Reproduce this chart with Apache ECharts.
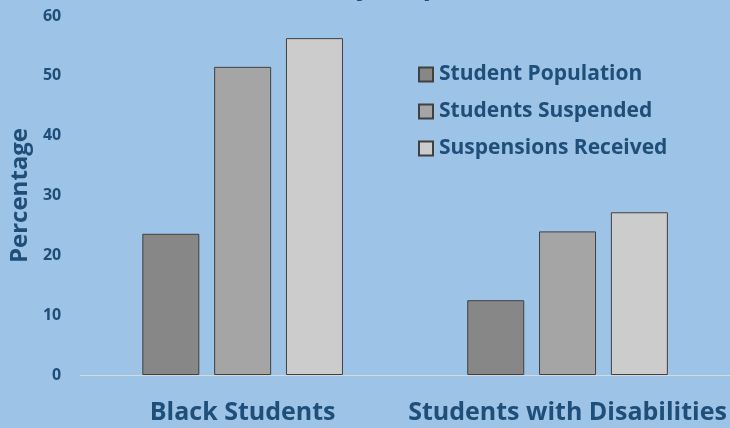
<!DOCTYPE html>
<html><head><meta charset="utf-8">
<script src="https://cdn.jsdelivr.net/npm/echarts@6/dist/echarts.min.js"></script>
<style>html,body{margin:0;padding:0;background:#9DC3E6;}#c{width:730px;height:428px;}</style>
</head><body><div id="c"></div>
<script>
const titleText = 'Racial and Disability Disparities (2013-14)';
const categories = ['Black Students', 'Students with Disabilities'];
const seriesNames = ['Student Population', 'Students Suspended', 'Suspensions Received'];
const studentPopulation = [23.6, 12.5];
const studentsSuspended = [51.5, 24.0];
const suspensionsReceived = [56.3, 27.2];
const yTicks = [0, 10, 20, 30, 40, 50, 60];

const colors = ['#878787', '#A5A5A5', '#CCCCCC'];
const values = [studentPopulation, studentsSuspended, suspensionsReceived];
const font = 'Open Sans';
const textColor = '#1F4E79';

const chart = echarts.init(document.getElementById('c'), null, {renderer: 'canvas'});
chart.setOption({
  backgroundColor: '#9DC3E6',
  animation: false,
  textStyle: {fontFamily: font},
  title: {
    text: titleText, left: 84, top: -33,
    textStyle: {fontFamily: font, fontSize: 28, fontWeight: 'bold', color: textColor}
  },
  legend: {
    orient: 'vertical', left: 413, top: 59, itemGap: 16,
    itemWidth: 14, itemHeight: 14, icon: 'rect',
    textStyle: {fontFamily: font, fontSize: 21, fontWeight: 'bold', color: textColor, padding: [0,0,0,1]},
    data: seriesNames
  },
  grid: {left: 79, right: -1, top: 16, bottom: 53, containLabel: false},
  xAxis: {
    type: 'category', data: categories,
    axisLine: {show: true, lineStyle: {color: '#D9D9D9', width: 1}},
    axisTick: {show: false},
    axisLabel: {fontFamily: font, fontSize: 25, fontWeight: 'bold', color: textColor, margin: 25, interval: 0},
  },
  yAxis: {
    type: 'value', min: 0, max: 60, interval: 10,
    name: 'Percentage', nameLocation: 'middle', nameGap: 46,
    nameTextStyle: {fontFamily: font, fontSize: 24, fontWeight: 'bold', color: textColor},
    axisLine: {show: false}, axisTick: {show: false},
    splitLine: {show: false},
    axisLabel: {fontFamily: font, fontSize: 16, fontWeight: 'bold', color: textColor, margin: 19,
      formatter: v => yTicks.includes(v) ? String(v) : ''}
  },
  series: seriesNames.map((n, i) => ({
    name: n, type: 'bar', data: values[i],
    barWidth: 57, barGap: '26%', barCategoryGap: '38%',
    itemStyle: {color: colors[i], borderColor: '#404040', borderWidth: 1}
  }))
});
</script></body></html>
